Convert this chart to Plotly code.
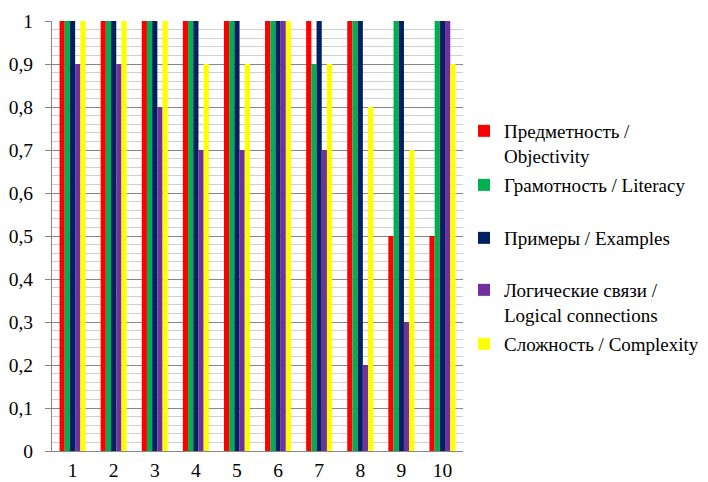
import plotly.graph_objects as go

categories = ["1", "2", "3", "4", "5", "6", "7", "8", "9", "10"]
series_names = [
    "Предметность /<br>Objectivity",
    "Грамотность / Literacy",
    "Примеры / Examples",
    "Логические связи /<br>Logical connections",
    "Сложность / Complexity",
]
objectivity = [1, 1, 1, 1, 1, 1, 1, 1, 0.5, 0.5]
literacy = [1, 1, 1, 1, 1, 1, 0.9, 1, 1, 1]
examples = [1, 1, 1, 1, 1, 1, 1, 1, 1, 1]
logical = [0.9, 0.9, 0.8, 0.7, 0.7, 1, 0.7, 0.2, 0.3, 1]
complexity = [1, 1, 1, 0.9, 0.9, 1, 0.9, 0.8, 0.7, 0.9]
y_tick_vals = [0, 0.1, 0.2, 0.3, 0.4, 0.5, 0.6, 0.7, 0.8, 0.9, 1]
y_tick_text = ["0", "0,1", "0,2", "0,3", "0,4", "0,5", "0,6", "0,7", "0,8", "0,9", "1"]

colors = ["#FF0000", "#00B050", "#002060", "#7030A0", "#FFFF00"]
values = [objectivity, literacy, examples, logical, complexity]
legend_ids = ["legend", "legend2", "legend3", "legend4", "legend5"]

# page body has an 8px margin, so the figure is drawn 8px in from the top-left
OFF = 8
W, H = 708 - OFF, 482 - OFF
FONT = "Times New Roman, Liberation Serif, serif"
FS = 19.5
LFS = 19

fig = go.Figure()
for name, vals, col, lg in zip(series_names, values, colors, legend_ids):
    fig.add_trace(go.Bar(x=categories, y=vals, name=name, marker_color=col,
                         marker_line_width=0, legend=lg))

# legend text first-line centers (screen px) in the reference
centers = [132, 186, 239, 291, 345]
text_left = 504
legend_layout = {}
for lg, cy in zip(legend_ids, centers):
    legend_layout[lg] = dict(
        xref="container", yref="container",
        x=(text_left - OFF - 40) / W, y=1 - (cy - OFF - 20) / H,
        xanchor="left", yanchor="top",
        font=dict(family=FONT, size=LFS, color="black"),
        bgcolor="rgba(0,0,0,0)", valign="top",
        itemclick=False, itemdoubleclick=False,
    )

fig.update_layout(
    width=W, height=H,
    margin=dict(l=52 - OFF, r=708 - 463, t=21 - OFF, b=482 - 451, autoexpand=False),
    paper_bgcolor="white", plot_bgcolor="white",
    barmode="group", bargap=0.367, bargroupgap=0,
    font=dict(family=FONT, size=FS, color="black"),
    showlegend=True,
    **legend_layout,
)
fig.update_xaxes(
    type="category", showgrid=False, showline=True, linecolor="#868686", linewidth=1,
    ticks="", ticklabelstandoff=2, automargin=False,
    tickfont=dict(family=FONT, size=FS, color="black"),
)
fig.update_yaxes(
    range=[0, 1], tickvals=y_tick_vals, ticktext=y_tick_text,
    showgrid=True, gridcolor="#868686", gridwidth=1,
    showline=True, linecolor="#868686", linewidth=1,
    ticks="outside", ticklen=6, tickcolor="#868686", ticklabelstandoff=8,
    zeroline=False, automargin=False,
    minor=dict(dtick=0.02, showgrid=True, gridcolor="#CFCFCF", gridwidth=1, ticks=""),
    tickfont=dict(family=FONT, size=FS, color="black"),
)
fig.write_html("out.html")
